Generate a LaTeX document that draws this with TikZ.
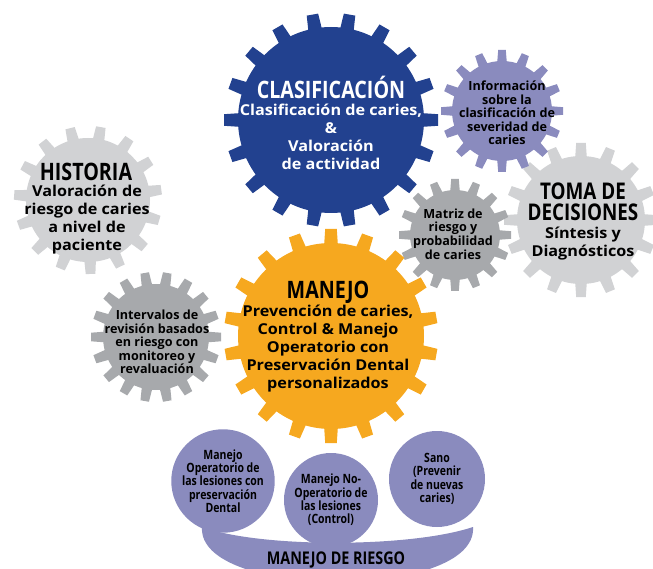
\documentclass[tikz,border=0pt]{standalone}
\usepackage{fontspec}
\setmainfont{Open Sans}
\newfontfamily\titulo{Open Sans}[FakeStretch=0.82]
\newfontfamily\cuerpo{Open Sans}[FakeStretch=1.08]
\definecolor{azul}{HTML}{22418F}
\definecolor{naranja}{HTML}{F6A81F}
\definecolor{grisclaro}{HTML}{D1D2D4}
\definecolor{grismedio}{HTML}{A7A9AC}
\definecolor{lila}{HTML}{8A8BBE}

% engranaje: centro, radio, radio de punta, dientes, giro, color, medio ancho
\newcommand{\engranaje}[7]{%
  \fill[#6] #1 circle (#2);
  \foreach \k in {1,...,#4}{
    \fill[#6, shift={#1}, rotate=#5+360*\k/#4]
      (#2-4,-#7) -- (#3,-#7+1.2) -- (#3,#7-1.2) -- (#2-4,#7) -- cycle;
  }
}

\tikzset{
  tit/.style={align=center, inner sep=0pt, font=\titulo\bfseries\fontsize{24}{20}\selectfont},
  txt/.style={align=center, inner sep=0pt, font=\cuerpo\bfseries\fontsize{15}{18}\selectfont},
  chico/.style={align=center, inner sep=0pt, font=\bfseries\fontsize{12.6}{13.6}\selectfont},
  circulo/.style={circle, fill=lila, inner sep=0pt, align=center,
    font=\titulo\bfseries\fontsize{12.8}{13.4}\selectfont}
}

\begin{document}
\begin{tikzpicture}[x=1pt,y=-1pt]
\useasboundingbox (0,0) rectangle (653,569);
% Historia
\engranaje{(88,200)}{62}{74}{15}{8}{grisclaro}{6}
% Toma de decisiones
\engranaje{(581,220)}{64}{77}{16}{0}{grisclaro}{6}
% Intervalos
\engranaje{(156,337)}{53}{65}{18}{0}{grismedio}{5.5}
% Matriz
\engranaje{(455,235)}{45}{56}{16}{0}{grismedio}{5}
% Informacion
\engranaje{(502,111)}{50}{61}{16}{0}{lila}{5}
% Clasificacion
\engranaje{(331,120)}{93}{107}{18}{0}{azul}{7}
% Manejo
\engranaje{(331,336)}{93}{107}{18}{10}{naranja}{7}
% Manejo de riesgo
\fill[lila] (202,527) .. controls (260,548) and (410,548) .. (473,527)
  .. controls (478,600) and (197,600) .. cycle;
\node[circulo, minimum size=98] (operatorio) at (223,481) {Manejo\\Operatorio de\\las lesiones con\\preservación\\Dental};
\node[circulo, minimum size=94] (nooperatorio) at (331,500) {Manejo No-\\Operatorio de\\las lesiones\\(Control)};
\node[circulo, minimum size=96] (sano) at (437,479) {Sano\\(Prevenir\\de nuevas\\caries)};
\node[tit, font=\titulo\bfseries\fontsize{17.5}{18}\selectfont] (riesgo) at (336,560) {MANEJO DE RIESGO};
% textos
\node[tit, white] (clasif) at (331,87.5) {CLASIFICACIÓN};
\node[txt, white] (clasiftxt) at (331,137) {Clasificación de caries,\\\&\\Valoración\\de actividad};
\node[tit] (historia) at (86,172) {HISTORIA};
\node[txt] (historiatxt) at (87,220) {Valoración de\\riesgo de caries\\a nivel de\\paciente};
\node[chico] (info) at (507,113) {Información\\sobre la\\clasificación de\\severidad de\\caries};
\node[chico] (matriz) at (453,234) {Matriz de\\riesgo y\\probabilidad\\de caries};
\node[tit, font=\titulo\bfseries\fontsize{23}{21}\selectfont] (toma) at (583,202) {TOMA DE\\DECISIONES};
\node[txt] (tomatxt) at (583,244) {Síntesis y\\Diagnósticos};
\node[chico] (intervalos) at (157,342) {Intervalos de\\revisión basados\\en riesgo con\\monitoreo y\\revaluación};
\node[tit] (manejo) at (328,292) {MANEJO};
\node[txt] (manejotxt) at (328,349) {Prevención de caries,\\Control \& Manejo\\Operatorio con\\Preservación Dental\\personalizados};
\end{tikzpicture}
\end{document}
